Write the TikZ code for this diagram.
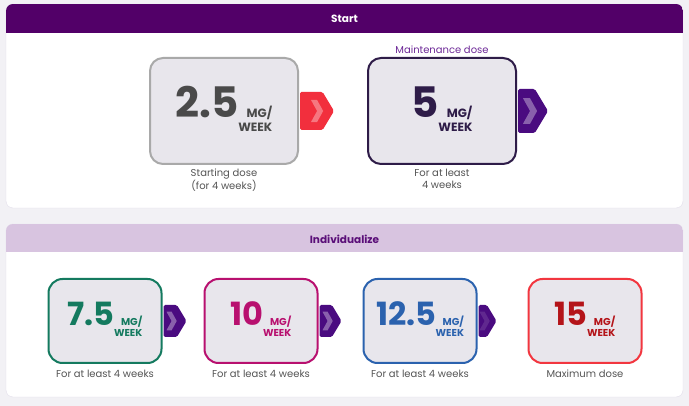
\documentclass[tikz,border=0pt]{standalone}
\usepackage{fontspec}
\setmainfont{Poppins}
\usetikzlibrary{positioning,calc}
\definecolor{pagebg}{HTML}{F2F1F5}
\definecolor{panelline}{HTML}{E2DDEA}
\definecolor{headdark}{HTML}{520068}
\definecolor{headlight}{HTML}{D8C4E0}
\definecolor{headtext}{HTML}{5A0E78}
\definecolor{boxfill}{HTML}{E8E6EC}
\definecolor{grayline}{HTML}{A9A9A9}
\definecolor{graynum}{HTML}{4A4A4A}
\definecolor{redtab}{HTML}{F22F3D}
\definecolor{purpleline}{HTML}{2E1C48}
\definecolor{mainttext}{HTML}{6E2A98}
\definecolor{purpletab}{HTML}{4A0B80}
\definecolor{greenline}{HTML}{147A5F}
\definecolor{magentaline}{HTML}{B8106F}
\definecolor{blueline}{HTML}{2B62AE}
\definecolor{redline}{HTML}{F2363F}
\definecolor{rednum}{HTML}{B41419}
\definecolor{labelgray}{HTML}{555555}
\tikzset{
    dosebox/.style={draw=#1,text=#1,fill=boxfill,line width=2pt,rounded corners=13pt,inner sep=0pt},
    bigbox/.style={minimum width=148pt,minimum height=106pt},
    smallbox/.style={minimum width=113pt,minimum height=84pt,rounded corners=14pt},
    doselabel/.style={text=labelgray,font=\fontsize{10}{12}\selectfont,align=center,inner sep=0pt},
    headtitle/.style={font=\fontsize{10.5}{12}\selectfont\bfseries,inner sep=0pt},
}
\newcommand\dosetext[4]{{\fontsize{#1}{#1}\selectfont\bfseries #4}\hspace{-0.5pt}{\fontsize{#2}{#3}\selectfont\bfseries\begin{tabular}[t]{@{}r@{}}MG/\\WEEK\end{tabular}}}
\newcommand\dosetab[6]{%
    \begin{scope}[shift={($(#1.east)+(1,0)$)}]
        \fill[#4,rounded corners=1.5pt] (0,-#3/2) -- (#2-0.3*#3,-#3/2) -- (#2,0) -- (#2-0.3*#3,#3/2) -- (0,#3/2) -- cycle;
        \fill[white,opacity=#6] (#5,-0.29*#3) -- ++(0.16*#3,0) -- ++(0.16*#3,0.29*#3) -- ++(-0.16*#3,0.29*#3) -- ++(-0.16*#3,0) -- ++(0.16*#3,-0.29*#3) -- cycle;
    \end{scope}}

\begin{document}
\begin{tikzpicture}[x=1pt,y=-1pt]
            \useasboundingbox (0,0) rectangle (689,406);
            \fill[pagebg] (0,0) rectangle (689,406);
            \filldraw[fill=white,draw=panelline,rounded corners=7pt] (6,4) rectangle (683,208);
            \filldraw[fill=white,draw=panelline,rounded corners=7pt] (6,224) rectangle (683,397);
            \begin{scope}
                \clip[rounded corners=7pt] (6,4) rectangle (683,208);
                \fill[headdark] (6,4) rectangle (683,33);
            \end{scope}
            \begin{scope}
                \clip[rounded corners=7pt] (6,224) rectangle (683,397);
                \fill[headlight] (6,224) rectangle (683,252);
            \end{scope}
            \node[headtitle,text=white] (starthead) at (344.5,19) {Start};
            \node[headtitle,text=headtext] (indivhead) at (344.5,239) {Individualize};

            \node[dosebox=grayline,bigbox,text=graynum] (start) at (224,111) {\dosetext{42}{12}{14}{2.5}};
            \node[dosebox=purpleline,bigbox] (maint) at (442,111) {\dosetext{42}{12}{14}{5}};
            \node[doselabel,below=4pt of start] (startnote) {Starting dose\\(for 4 weeks)};
            \node[doselabel,below=4pt of maint] (maintnote) {For at least\\4 weeks};
            \node[doselabel,text=mainttext,above=3pt of maint] (mainttitle) {Maintenance dose};
            \dosetab{start}{34}{38}{redtab}{11}{0.35}
            \dosetab{maint}{30}{44}{purpletab}{5}{0.35}

            \node[dosebox=greenline,smallbox] (seven) at (105,321) {\dosetext{32}{10}{11}{7.5}};
            \node[dosebox=magentaline,smallbox] (ten) at (261,321) {\dosetext{32}{10}{11}{10}};
            \node[dosebox=blueline,smallbox] (twelve) at (420,321) {\dosetext{32}{10}{11}{12.5}};
            \node[dosebox=redline,smallbox,text=rednum] (fifteen) at (585,321) {\dosetext{32}{10}{11}{15}};
            \node[doselabel,below=6pt of seven] (sevennote) {For at least 4 weeks};
            \node[doselabel,below=6pt of ten] (tennote) {For at least 4 weeks};
            \node[doselabel,below=6pt of twelve] (twelvenote) {For at least 4 weeks};
            \node[doselabel,below=6pt of fifteen] (fifteennote) {Maximum dose};
            \dosetab{seven}{23}{32}{purpletab}{3}{0.35}
            \dosetab{ten}{22}{32}{purpletab}{3}{0.35}
            \dosetab{twelve}{18}{32}{purpletab}{1}{0.12}
        \end{tikzpicture}
\end{document}
